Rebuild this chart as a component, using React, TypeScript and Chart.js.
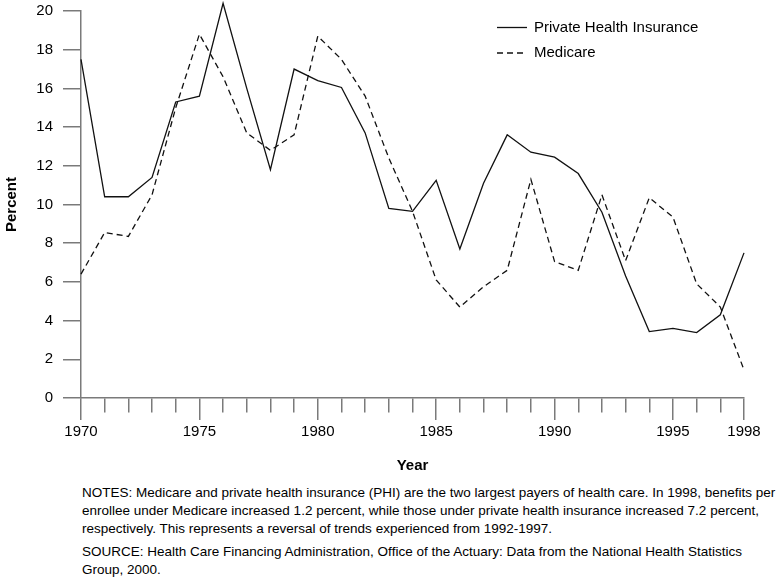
import React, { useEffect, useRef } from 'react';
import { Chart, registerables } from 'chart.js';

Chart.register(...registerables);

// ---- Data ----
const years = [
  '1970', '1971', '1972', '1973', '1974', '1975', '1976', '1977', '1978', '1979',
  '1980', '1981', '1982', '1983', '1984', '1985', '1986', '1987', '1988', '1989',
  '1990', '1991', '1992', '1993', '1994', '1995', '1996', '1997', '1998',
];

const privateHealthInsurance = [
  17.5, 10.4, 10.4, 11.4, 15.3, 15.6, 20.4, 16.0, 11.8, 17.0,
  16.4, 16.05, 13.7, 9.8, 9.65, 11.25, 7.7, 11.1, 13.6, 12.7,
  12.45, 11.6, 9.6, 6.3, 3.43, 3.6, 3.38, 4.3, 7.5,
];

const medicare = [
  6.4, 8.55, 8.35, 10.5, 15.0, 18.8, 16.6, 13.7, 12.8, 13.6,
  18.7, 17.5, 15.6, 12.4, 9.65, 6.1, 4.7, 5.75, 6.6, 11.3,
  7.05, 6.6, 10.5, 7.1, 10.35, 9.35, 5.9, 4.7, 1.45,
];

const labeledYears = ['1970', '1975', '1980', '1985', '1990', '1995', '1998'];

const seriesNames = ['Private Health Insurance', 'Medicare'];

const notesLines = [
  'NOTES: Medicare and private health insurance (PHI) are the two largest payers of health care. In 1998, benefits per',
  'enrollee under Medicare increased 1.2 percent, while those under private health insurance increased 7.2 percent,',
  'respectively. This represents a reversal of trends experienced from 1992-1997.',
];
const sourceLines = [
  'SOURCE: Health Care Financing Administration, Office of the Actuary: Data from the National Health Statistics',
  'Group, 2000.',
];

// ---- Styles ----
const FONT = "'Liberation Sans', Arial, Helvetica, sans-serif";
const AXIS_COLOR = '#7a7a7a';
const LINE_COLOR = '#111111';

const legendPlugin = {
  id: 'inlineLegend',
  afterDraw(chart: any) {
    const ctx = chart.ctx;
    const x0 = 497;
    const x1 = 527;
    const tx = 534;
    const ys = [27.5, 53];
    ctx.save();
    chart.data.datasets.forEach((ds: any, i: number) => {
      const y = ys[i];
      ctx.beginPath();
      ctx.setLineDash(ds.borderDash || []);
      ctx.strokeStyle = ds.borderColor;
      ctx.lineWidth = ds.borderWidth;
      ctx.moveTo(x0, y);
      ctx.lineTo(x1, y);
      ctx.stroke();
      ctx.setLineDash([]);
      ctx.fillStyle = '#000';
      ctx.font = `15px ${FONT}`;
      ctx.textBaseline = 'middle';
      ctx.textAlign = 'left';
      ctx.fillText(ds.label, tx, y);
    });
    ctx.restore();
  },
};

export default function App() {
  const canvasRef = useRef<HTMLCanvasElement | null>(null);

  useEffect(() => {
    if (!canvasRef.current) return;
    const chart = new Chart(canvasRef.current, {
      type: 'line',
      data: {
        labels: years,
        datasets: [
          {
            label: seriesNames[0],
            data: privateHealthInsurance,
            borderColor: LINE_COLOR,
            borderWidth: 1.3,
            pointRadius: 0,
            tension: 0,
            fill: false,
            clip: false,
          },
          {
            label: seriesNames[1],
            data: medicare,
            borderColor: LINE_COLOR,
            borderWidth: 1.3,
            borderDash: [6, 4],
            pointRadius: 0,
            tension: 0,
            fill: false,
            clip: false,
          },
        ],
      },
      options: {
        responsive: false,
        animation: false,
        layout: { padding: { top: 11, right: 37, left: 0, bottom: 0 } },
        plugins: {
          legend: { display: false },
          tooltip: { enabled: false },
        },
        scales: {
          x: {
            type: 'category',
            afterFit: (s: any) => {
              s.height = 82;
              s.paddingLeft = 0;
              s.paddingRight = 0;
            },
            grid: {
              drawOnChartArea: false,
              drawTicks: true,
              tickLength: 22,
              color: AXIS_COLOR,
              lineWidth: 1.5,
              tickBorderDash: (ctx: any) =>
                labeledYears.includes(years[ctx.index]) ? [] : [14, 100],
            },
            border: { display: true, color: AXIS_COLOR, width: 1.5 },
            ticks: {
              autoSkip: false,
              maxRotation: 0,
              color: '#000',
              padding: 3,
              font: { size: 15, family: FONT },
              callback: (_v: any, i: number) =>
                labeledYears.includes(years[i]) ? years[i] : '',
            },
            title: {
              display: true,
              text: 'Year',
              color: '#000',
              font: { size: 15, weight: 'bold', family: FONT },
              padding: { top: 0, bottom: 5 },
            },
          },
          y: {
            min: 0,
            max: 20,
            afterFit: (s: any) => {
              s.width = 81;
              s.paddingTop = 0;
              s.paddingBottom = 0;
            },
            grid: {
              drawOnChartArea: false,
              drawTicks: true,
              tickLength: 18,
              color: AXIS_COLOR,
              lineWidth: 1.5,
            },
            border: { display: true, color: AXIS_COLOR, width: 1.5 },
            ticks: {
              stepSize: 2,
              color: '#000',
              padding: 10,
              font: { size: 15, family: FONT },
            },
            title: {
              display: true,
              text: 'Percent',
              color: '#000',
              font: { size: 15, weight: 'bold', family: FONT },
              padding: { top: 3, bottom: 0 },
            },
          },
        },
      },
      plugins: [legendPlugin],
    } as any);
    return () => chart.destroy();
  }, []);

  const lineStyle: React.CSSProperties = {
    whiteSpace: 'nowrap',
    height: 18,
    lineHeight: '18px',
  };

  return (
    <div
      style={{
        position: 'absolute',
        left: 0,
        top: 0,
        width: 781,
        height: 578,
        background: '#fff',
        overflow: 'hidden',
      }}
    >
      <canvas
        ref={canvasRef}
        width={781}
        height={480}
        style={{ display: 'block', width: 781, height: 480 }}
      />
      <div
        style={{
          position: 'absolute',
          left: 82,
          top: 484,
          fontFamily: FONT,
          fontSize: 13.5,
          color: '#000',
        }}
      >
        {notesLines.map((t, i) => (
          <div key={'n' + i} style={lineStyle}>{t}</div>
        ))}
        <div style={{ height: 5 }} />
        {sourceLines.map((t, i) => (
          <div key={'s' + i} style={lineStyle}>{t}</div>
        ))}
      </div>
    </div>
  );
}
